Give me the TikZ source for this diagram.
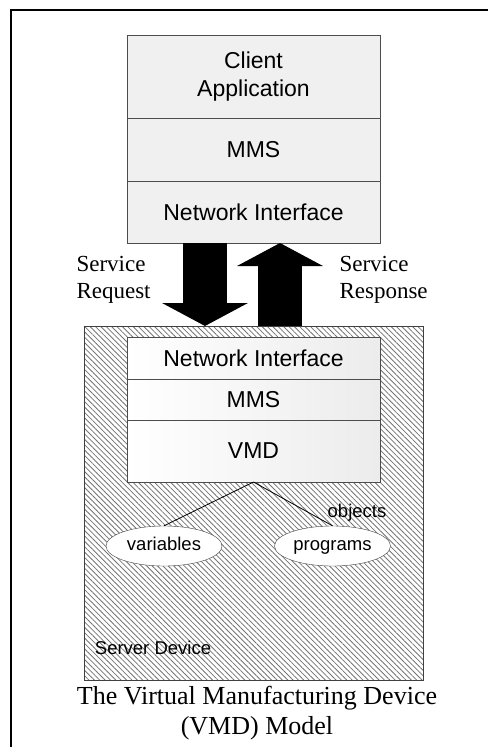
\documentclass[tikz,border=0pt]{standalone}
\usepackage{fontspec}
\setmainfont{Liberation Serif}
\setsansfont{Liberation Sans}
\usetikzlibrary{shapes.geometric,arrows.meta,patterns.meta}

\tikzset{
  clientlayer/.style={draw=gray!60!black, fill=gray!12, minimum width=253pt,
    inner sep=0pt, outer sep=0pt, align=center, font=\fontsize{23}{28}\sffamily\selectfont},
  srvlayer/.style={draw=gray!60!black, left color=white, right color=gray!15,
    minimum width=253pt, inner sep=0pt, outer sep=0pt,
    font=\fontsize{23}{28}\sffamily\selectfont},
  objnode/.style={draw=gray!50!black, ellipse, fill=white, minimum width=116pt,
    minimum height=40pt, inner sep=0pt, text height=13pt, text depth=4pt,
    font=\fontsize{18.5}{22}\sffamily\selectfont},
  bigarrow/.style={line width=44pt, -{Triangle[width=85pt,length=23pt]}},
  smalltext/.style={font=\fontsize{18.5}{22}\sffamily\selectfont},
  servtext/.style={font=\fontsize{23}{27}\selectfont, align=left, anchor=west}
}

\begin{document}
\begin{tikzpicture}[x=1pt,y=-1pt]
\useasboundingbox (0,0) rectangle (488,747);
% Draw the frame (cut at right and bottom)
\draw[line width=1.6pt] (11,747) -- (11,10) -- (488,10);

% Client stack
\node[clientlayer, minimum height=83pt] (app) at (253.5,76.5) {Client\\Application};
\node[clientlayer, minimum height=63pt, anchor=north] (mms1) at (app.south) {MMS};
\node[clientlayer, minimum height=62pt, anchor=north] (ni1) at (mms1.south) {Network Interface};

% Server device with hatching
\node[draw=gray!50!black, pattern={Lines[angle=-45,distance=3.8pt,line width=0.8pt]},
  pattern color=black!55, minimum width=339pt, minimum height=354pt,
  inner sep=0pt, outer sep=0pt] (srv) at (253.5,503) {};
\node[smalltext] (srvname) at (153,648) {Server Device};

% Server stack
\node[srvlayer, minimum height=42pt] (ni2) at (253.5,358) {Network Interface};
\node[srvlayer, minimum height=41pt, anchor=north] (mms2) at (ni2.south) {MMS};
\node[srvlayer, minimum height=62pt, anchor=north] (vmd) at (mms2.south) {VMD};

% Objects
\node[objnode] (vars) at (164,546) {variables};
\node[objnode] (progs) at (332.5,546) {programs};
\node[smalltext] (objlbl) at (357,513) {objects};
\draw[black, line width=0.8pt] (vmd.south) -- (vars.north);
\draw[black, line width=0.8pt] (vmd.south) -- (progs.north);

% Request and response arrows
\draw[bigarrow] ([xshift=-48.5pt]ni1.south) -- ([xshift=-48.5pt]srv.north);
\draw[bigarrow] ([xshift=26.5pt]srv.north) -- ([xshift=26.5pt]ni1.south);
\node[servtext] (req) at (73,279.5) {Service\\Request};
\node[servtext] (resp) at (336,279.5) {Service\\Response};

% Caption
\node[align=center, font=\fontsize{26}{30}\selectfont] (cap) at (257,713)
  {The Virtual Manufacturing Device\\(VMD) Model};
\end{tikzpicture}
\end{document}
